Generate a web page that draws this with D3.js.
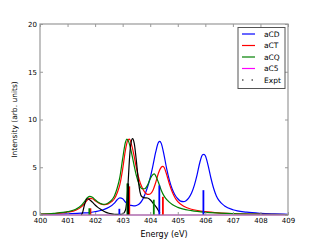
<!DOCTYPE html>
<html><head><meta charset="utf-8">
<script src="https://cdn.jsdelivr.net/npm/d3@7"></script>
<style>html,body{margin:0;padding:0;background:#fff;}svg{display:block;}</style>
</head><body>
<script>
const xTicks = [400,401,402,403,404,405,406,407,408,409];
const yTicks = [0,5,10,15,20];
const seriesNames = ["aCD","aCT","aCQ","aC5","Expt"];
const seriesColors = ["#0000ff","#ff0000","#008000","#ff00ff","#000000"];

const aCD = [[400.0,0.05],[400.5,0.08],[401.0,0.12],[401.5,0.2],[401.8,0.25],[402.0,0.35],[402.3,0.55],[402.5,0.8],[402.7,1.25],[402.8,1.6],[402.9,1.8],[403.0,1.7],[403.1,1.35],[403.2,1.1],[403.3,1.0],[403.4,0.95],[403.5,1.0],[403.6,1.15],[403.7,1.5],[403.8,2.1],[403.9,2.9],[404.0,3.9],[404.1,5.2],[404.2,6.6],[404.3,7.6],[404.35,7.7],[404.4,7.5],[404.5,6.3],[404.6,4.8],[404.7,3.6],[404.8,2.7],[404.9,2.1],[405.0,1.7],[405.1,1.45],[405.2,1.4],[405.3,1.5],[405.4,1.8],[405.5,2.3],[405.6,3.1],[405.7,4.2],[405.8,5.5],[405.9,6.3],[405.95,6.35],[406.0,6.2],[406.1,5.2],[406.2,3.9],[406.3,2.8],[406.4,2.0],[406.5,1.5],[406.7,0.95],[407.0,0.55],[407.5,0.3],[408.0,0.18],[408.5,0.12],[409.0,0.08]];
const aCT = [[400.0,0.1],[400.5,0.15],[401.0,0.3],[401.3,0.5],[401.5,0.85],[401.6,1.15],[401.7,1.5],[401.8,1.75],[401.9,1.7],[402.0,1.5],[402.1,1.3],[402.2,1.15],[402.3,1.08],[402.4,1.1],[402.5,1.2],[402.6,1.4],[402.7,1.7],[402.8,2.3],[402.9,3.2],[403.0,4.8],[403.1,6.8],[403.2,7.9],[403.25,7.95],[403.3,7.6],[403.4,6.4],[403.5,4.9],[403.6,3.7],[403.7,2.9],[403.8,2.4],[403.9,2.15],[404.0,2.2],[404.1,2.6],[404.2,3.4],[404.3,4.4],[404.4,5.0],[404.45,5.1],[404.5,5.0],[404.6,4.2],[404.7,3.2],[404.8,2.4],[404.9,1.8],[405.0,1.4],[405.2,0.95],[405.5,0.6],[406.0,0.35],[406.5,0.22],[407.0,0.15],[408.0,0.08],[409.0,0.05]];
const aCQ = [[400.0,0.1],[400.5,0.18],[401.0,0.35],[401.3,0.6],[401.5,1.0],[401.6,1.35],[401.7,1.75],[401.8,1.95],[401.9,1.85],[402.0,1.6],[402.1,1.35],[402.2,1.2],[402.3,1.12],[402.4,1.15],[402.5,1.3],[402.6,1.55],[402.7,2.0],[402.8,2.8],[402.9,4.0],[403.0,5.9],[403.1,7.6],[403.15,7.95],[403.2,7.8],[403.3,6.8],[403.4,5.4],[403.5,4.1],[403.6,3.2],[403.7,2.75],[403.8,2.75],[403.9,3.1],[404.0,3.8],[404.1,4.25],[404.15,4.3],[404.2,4.1],[404.3,3.4],[404.4,2.6],[404.5,2.0],[404.6,1.6],[404.8,1.1],[405.0,0.8],[405.5,0.45],[406.0,0.28],[406.5,0.2],[407.0,0.14],[408.0,0.08],[409.0,0.05]];
const aC5 = [[400.0,0.0],[409.0,0.0]];
const expt = [[401.5,0.0],[401.55,0.3],[401.6,0.9],[401.65,1.4],[401.72,1.7],[401.8,1.6],[401.9,1.35],[402.0,1.05],[402.1,0.8],[402.2,0.6],[402.3,0.42],[402.4,0.28],[402.5,0.18],[402.6,0.12],[402.7,0.08],[402.8,0.06],[402.9,0.06],[403.0,0.1],[403.1,0.5],[403.15,1.5],[403.2,3.5],[403.25,6.0],[403.3,7.5],[403.36,8.0],[403.42,7.5],[403.5,5.6],[403.57,3.6],[403.63,2.4],[403.7,1.9],[403.8,1.8],[403.9,1.78],[404.0,1.6],[404.1,1.25],[404.2,0.9],[404.3,0.45],[404.35,0.2]];

const sticksCD = [[402.88,0.65],[404.33,3.1],[405.93,2.6]];
const sticksCT = [[401.83,0.7],[403.24,3.0],[404.46,1.9]];
const sticksCQ = [[401.79,0.7],[403.17,3.3],[404.13,1.6]];
const sticksExpt = [[403.2,3.3]];

const W=320,H=240;
const m={l:40,r:32,t:24,b:25};
const svg=d3.select("body").append("svg").attr("width",W).attr("height",H)
  .style("font-family","'DejaVu Sans', sans-serif");
const x=d3.scaleLinear().domain([400,409]).range([m.l,W-m.r]);
const y=d3.scaleLinear().domain([0,20]).range([H-m.b,m.t]);

const clip=svg.append("clipPath").attr("id","c").append("rect")
  .attr("x",x(400)).attr("y",y(20)).attr("width",x(409)-x(400)).attr("height",y(0)-y(20)+1);
const g=svg.append("g").attr("clip-path","url(#c)");

const line=d3.line().x(d=>x(d[0])).y(d=>y(d[1])).curve(d3.curveMonotoneX);
const allSeries=[aCD,aCT,aCQ,aC5,expt];
allSeries.forEach((s,i)=>{
  g.append("path").datum(s).attr("d",line).attr("fill","none")
   .attr("stroke",seriesColors[i]).attr("stroke-width",1.2);
});
const stickSets=[[sticksCD,seriesColors[0]],[sticksCT,seriesColors[1]],[sticksCQ,seriesColors[2]],[sticksExpt,seriesColors[4]]];
stickSets.forEach(([s,c])=>{
  g.selectAll(null).data(s).enter().append("line")
   .attr("x1",d=>x(d[0])).attr("x2",d=>x(d[0]))
   .attr("y1",y(0)).attr("y2",d=>y(d[1]))
   .attr("stroke",c).attr("stroke-width",1.8);
});

// frame
const frameColor="#999";
svg.append("rect").attr("x",x(400)).attr("y",y(20)).attr("width",x(409)-x(400)).attr("height",y(0)-y(20))
  .attr("fill","none").attr("stroke",frameColor).attr("stroke-width",1.2);

// axes
const ax=svg.append("g").attr("transform",`translate(0,${y(0)})`)
  .call(d3.axisBottom(x).tickValues(xTicks).tickFormat(d3.format("d")).tickSizeInner(-3).tickSizeOuter(0).tickPadding(3));
const axTop=svg.append("g").attr("transform",`translate(0,${y(20)})`)
  .call(d3.axisTop(x).tickValues(xTicks).tickFormat("").tickSizeInner(-3).tickSizeOuter(0));
const ay=svg.append("g").attr("transform",`translate(${x(400)},0)`)
  .call(d3.axisLeft(y).tickValues(yTicks).tickSizeInner(-3).tickSizeOuter(0).tickPadding(3));
const ayR=svg.append("g").attr("transform",`translate(${x(409)},0)`)
  .call(d3.axisRight(y).tickValues(yTicks).tickFormat("").tickSizeInner(-3).tickSizeOuter(0));
[ax,axTop,ay,ayR].forEach(a=>{
  a.select(".domain").remove();
  a.selectAll(".tick line").attr("stroke",frameColor);
  a.selectAll("text").attr("font-size",7).attr("fill","#000").attr("font-family","'DejaVu Sans', sans-serif");
});
ay.selectAll(".tick").filter(d=>d===0).select("text").attr("dy","0.1em");

svg.append("text").attr("x",(x(400)+x(409))/2).attr("y",237).attr("text-anchor","middle")
  .attr("font-size",8).text("Energy (eV)");
svg.append("text").attr("transform",`translate(17,${(y(0)+y(20))/2}) rotate(-90)`).attr("text-anchor","middle")
  .attr("font-size",7.5).text("Intensity (arb. units)");

// legend
const lg=svg.append("g");
lg.append("rect").attr("x",238).attr("y",27.5).attr("width",47).attr("height",61)
  .attr("fill","#fff").attr("stroke","#555").attr("stroke-width",1);
seriesNames.forEach((n,i)=>{
  const yy=34+i*11.5;
  const l=lg.append("line").attr("x1",242).attr("x2",255).attr("y1",yy).attr("y2",yy)
    .attr("stroke",seriesColors[i]).attr("stroke-width",1.2);
  if(i===4) l.attr("stroke-dasharray","1.5,8");
  lg.append("text").attr("x",264).attr("y",yy+2.7).attr("font-size",7.5).text(n);
});
</script>
</body></html>
